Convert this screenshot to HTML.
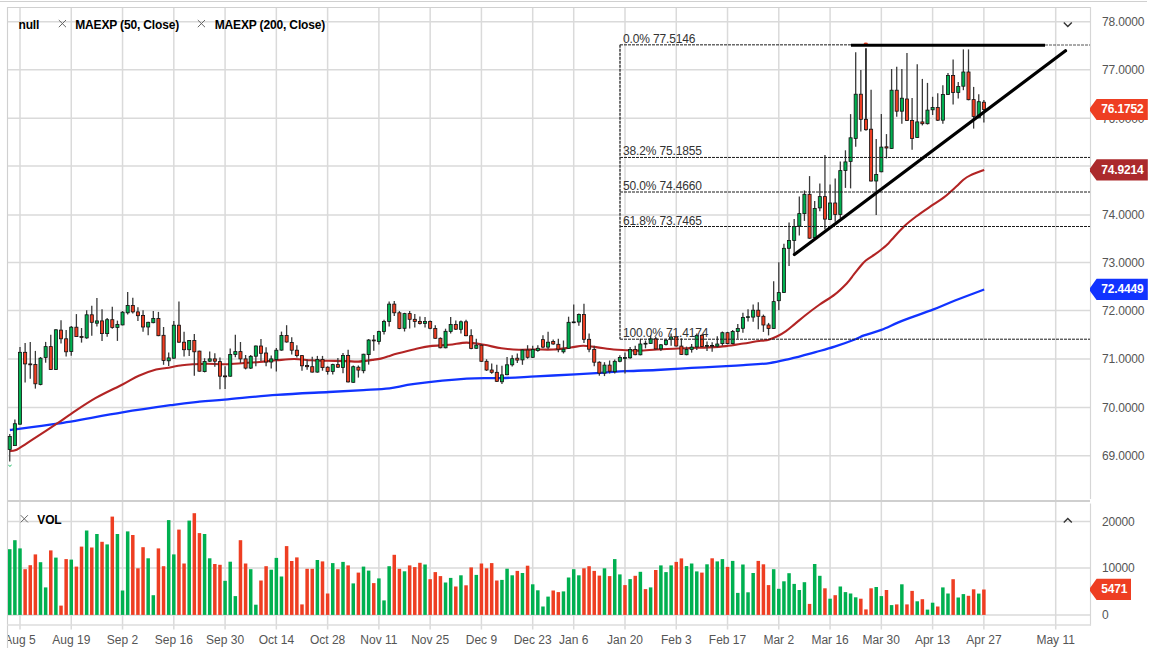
<!DOCTYPE html>
<html lang="en"><head><meta charset="utf-8"><title>Chart</title>
<style>html,body{margin:0;padding:0;background:#fff;overflow:hidden}svg{display:block}text{font-family:"Liberation Sans",Arial,sans-serif;font-size:12px;letter-spacing:-0.15px}.b{font-weight:bold;fill:#000}.ax{fill:#555}.dx{letter-spacing:0}.fib{fill:#333}.tag{font-weight:bold;fill:#fff}</style></head><body>
<svg width="1153" height="648" viewBox="0 0 1153 648">
<rect width="1153" height="648" fill="#fff"/>
<line x1="0" y1="1.5" x2="1147" y2="1.5" stroke="#d0d0d0" stroke-width="1"/>
<g stroke="#dadada" stroke-width="1.5" fill="none">
<line x1="8" y1="455.70" x2="1090" y2="455.70"/>
<line x1="8" y1="407.60" x2="1090" y2="407.60"/>
<line x1="8" y1="358.90" x2="1090" y2="358.90"/>
<line x1="8" y1="310.60" x2="1090" y2="310.60"/>
<line x1="8" y1="262.60" x2="1090" y2="262.60"/>
<line x1="8" y1="214.90" x2="1090" y2="214.90"/>
<line x1="8" y1="166.10" x2="1090" y2="166.10"/>
<line x1="8" y1="118.30" x2="1090" y2="118.30"/>
<line x1="8" y1="69.80" x2="1090" y2="69.80"/>
<line x1="8" y1="21.70" x2="1090" y2="21.70"/>
<line x1="8" y1="521.6" x2="1090" y2="521.6"/>
<line x1="8" y1="567.9" x2="1090" y2="567.9"/>
<line x1="8" y1="614.9" x2="1090" y2="614.9"/>
<line x1="20.00" y1="8" x2="20.00" y2="629.5"/>
<line x1="71.27" y1="8" x2="71.27" y2="629.5"/>
<line x1="122.54" y1="8" x2="122.54" y2="629.5"/>
<line x1="173.81" y1="8" x2="173.81" y2="629.5"/>
<line x1="225.08" y1="8" x2="225.08" y2="629.5"/>
<line x1="276.35" y1="8" x2="276.35" y2="629.5"/>
<line x1="327.62" y1="8" x2="327.62" y2="629.5"/>
<line x1="378.89" y1="8" x2="378.89" y2="629.5"/>
<line x1="430.16" y1="8" x2="430.16" y2="629.5"/>
<line x1="481.43" y1="8" x2="481.43" y2="629.5"/>
<line x1="532.70" y1="8" x2="532.70" y2="629.5"/>
<line x1="573.72" y1="8" x2="573.72" y2="629.5"/>
<line x1="624.99" y1="8" x2="624.99" y2="629.5"/>
<line x1="676.26" y1="8" x2="676.26" y2="629.5"/>
<line x1="727.53" y1="8" x2="727.53" y2="629.5"/>
<line x1="778.80" y1="8" x2="778.80" y2="629.5"/>
<line x1="830.07" y1="8" x2="830.07" y2="629.5"/>
<line x1="881.34" y1="8" x2="881.34" y2="629.5"/>
<line x1="932.61" y1="8" x2="932.61" y2="629.5"/>
<line x1="983.88" y1="8" x2="983.88" y2="629.5"/>
<line x1="1055.70" y1="8" x2="1055.70" y2="629.5"/>
</g>
<g stroke="#d0d0d0" stroke-width="1.15" fill="none">
<line x1="7.5" y1="7" x2="7.5" y2="648"/>
<line x1="7" y1="7.5" x2="1091" y2="7.5"/>
<line x1="1090.5" y1="7" x2="1090.5" y2="499" stroke="#d6d6d6"/>
<line x1="1090.5" y1="503.5" x2="1090.5" y2="625.5" stroke="#d6d6d6"/>
</g>
<line x1="7" y1="625" x2="1091" y2="625" stroke="#dcdcdc" stroke-width="1.5"/>
<line x1="7" y1="501" x2="1090" y2="501" stroke="#cfcfcf" stroke-width="1.8"/>
<g>
<rect x="8.00" y="549.2" width="3.5" height="65.7" fill="#00b050"/>
<rect x="13.13" y="540.2" width="3.5" height="74.7" fill="#00b050"/>
<rect x="18.25" y="548.4" width="3.5" height="66.5" fill="#00b050"/>
<rect x="23.38" y="569.2" width="3.5" height="45.7" fill="#ee3e22"/>
<rect x="28.51" y="565.2" width="3.5" height="49.7" fill="#ee3e22"/>
<rect x="33.63" y="554.4" width="3.5" height="60.5" fill="#ee3e22"/>
<rect x="38.76" y="562.2" width="3.5" height="52.7" fill="#00b050"/>
<rect x="43.89" y="587.4" width="3.5" height="27.5" fill="#00b050"/>
<rect x="49.02" y="550.4" width="3.5" height="64.5" fill="#ee3e22"/>
<rect x="54.14" y="557.6" width="3.5" height="57.3" fill="#00b050"/>
<rect x="59.27" y="605.6" width="3.5" height="9.3" fill="#ee3e22"/>
<rect x="64.40" y="559.1" width="3.5" height="55.8" fill="#ee3e22"/>
<rect x="69.52" y="559.6" width="3.5" height="55.3" fill="#00b050"/>
<rect x="74.65" y="566.6" width="3.5" height="48.3" fill="#ee3e22"/>
<rect x="79.78" y="546.6" width="3.5" height="68.3" fill="#ee3e22"/>
<rect x="84.91" y="530.5" width="3.5" height="84.4" fill="#00b050"/>
<rect x="90.03" y="547.5" width="3.5" height="67.4" fill="#ee3e22"/>
<rect x="95.16" y="534.0" width="3.5" height="80.9" fill="#00b050"/>
<rect x="100.29" y="541.8" width="3.5" height="73.1" fill="#ee3e22"/>
<rect x="105.41" y="544.4" width="3.5" height="70.5" fill="#00b050"/>
<rect x="110.54" y="516.6" width="3.5" height="98.3" fill="#ee3e22"/>
<rect x="115.67" y="534.0" width="3.5" height="80.9" fill="#00b050"/>
<rect x="120.79" y="590.5" width="3.5" height="24.4" fill="#00b050"/>
<rect x="125.92" y="531.4" width="3.5" height="83.5" fill="#00b050"/>
<rect x="131.05" y="535.0" width="3.5" height="79.9" fill="#ee3e22"/>
<rect x="136.17" y="568.3" width="3.5" height="46.6" fill="#ee3e22"/>
<rect x="141.30" y="547.2" width="3.5" height="67.7" fill="#ee3e22"/>
<rect x="146.43" y="558.3" width="3.5" height="56.6" fill="#00b050"/>
<rect x="151.56" y="595.2" width="3.5" height="19.7" fill="#00b050"/>
<rect x="156.68" y="548.4" width="3.5" height="66.5" fill="#ee3e22"/>
<rect x="161.81" y="566.2" width="3.5" height="48.7" fill="#ee3e22"/>
<rect x="166.94" y="520.1" width="3.5" height="94.8" fill="#00b050"/>
<rect x="172.06" y="554.4" width="3.5" height="60.5" fill="#00b050"/>
<rect x="177.19" y="529.6" width="3.5" height="85.3" fill="#ee3e22"/>
<rect x="182.32" y="563.5" width="3.5" height="51.4" fill="#ee3e22"/>
<rect x="187.44" y="520.6" width="3.5" height="94.3" fill="#00b050"/>
<rect x="192.57" y="513.2" width="3.5" height="101.7" fill="#ee3e22"/>
<rect x="197.70" y="533.1" width="3.5" height="81.8" fill="#ee3e22"/>
<rect x="202.83" y="534.0" width="3.5" height="80.9" fill="#00b050"/>
<rect x="207.95" y="558.3" width="3.5" height="56.6" fill="#00b050"/>
<rect x="213.08" y="564.0" width="3.5" height="50.9" fill="#ee3e22"/>
<rect x="218.21" y="564.8" width="3.5" height="50.1" fill="#ee3e22"/>
<rect x="223.33" y="580.8" width="3.5" height="34.1" fill="#00b050"/>
<rect x="228.46" y="561.7" width="3.5" height="53.2" fill="#00b050"/>
<rect x="233.59" y="596.1" width="3.5" height="18.8" fill="#00b050"/>
<rect x="238.72" y="540.2" width="3.5" height="74.7" fill="#ee3e22"/>
<rect x="243.84" y="563.5" width="3.5" height="51.4" fill="#ee3e22"/>
<rect x="248.97" y="569.2" width="3.5" height="45.7" fill="#00b050"/>
<rect x="254.10" y="604.7" width="3.5" height="10.2" fill="#00b050"/>
<rect x="259.22" y="580.5" width="3.5" height="34.4" fill="#ee3e22"/>
<rect x="264.35" y="566.2" width="3.5" height="48.7" fill="#ee3e22"/>
<rect x="269.48" y="569.7" width="3.5" height="45.2" fill="#00b050"/>
<rect x="274.60" y="557.9" width="3.5" height="57.0" fill="#00b050"/>
<rect x="279.73" y="576.5" width="3.5" height="38.4" fill="#00b050"/>
<rect x="284.86" y="546.1" width="3.5" height="68.8" fill="#ee3e22"/>
<rect x="289.99" y="561.0" width="3.5" height="53.9" fill="#ee3e22"/>
<rect x="295.11" y="557.4" width="3.5" height="57.5" fill="#ee3e22"/>
<rect x="300.24" y="604.4" width="3.5" height="10.5" fill="#ee3e22"/>
<rect x="305.37" y="568.8" width="3.5" height="46.1" fill="#ee3e22"/>
<rect x="310.49" y="568.8" width="3.5" height="46.1" fill="#ee3e22"/>
<rect x="315.62" y="560.0" width="3.5" height="54.9" fill="#00b050"/>
<rect x="320.75" y="561.4" width="3.5" height="53.5" fill="#ee3e22"/>
<rect x="325.87" y="593.5" width="3.5" height="21.4" fill="#ee3e22"/>
<rect x="331.00" y="563.1" width="3.5" height="51.8" fill="#00b050"/>
<rect x="336.13" y="569.2" width="3.5" height="45.7" fill="#ee3e22"/>
<rect x="341.25" y="561.9" width="3.5" height="53.0" fill="#00b050"/>
<rect x="346.38" y="565.4" width="3.5" height="49.5" fill="#ee3e22"/>
<rect x="351.51" y="583.4" width="3.5" height="31.5" fill="#00b050"/>
<rect x="356.64" y="572.6" width="3.5" height="42.3" fill="#ee3e22"/>
<rect x="361.76" y="566.6" width="3.5" height="48.3" fill="#00b050"/>
<rect x="366.89" y="570.6" width="3.5" height="44.3" fill="#00b050"/>
<rect x="372.02" y="583.1" width="3.5" height="31.8" fill="#ee3e22"/>
<rect x="377.14" y="578.4" width="3.5" height="36.5" fill="#00b050"/>
<rect x="382.27" y="600.4" width="3.5" height="14.5" fill="#00b050"/>
<rect x="387.40" y="566.2" width="3.5" height="48.7" fill="#00b050"/>
<rect x="392.52" y="554.8" width="3.5" height="60.1" fill="#ee3e22"/>
<rect x="397.65" y="568.8" width="3.5" height="46.1" fill="#ee3e22"/>
<rect x="402.78" y="571.3" width="3.5" height="43.6" fill="#00b050"/>
<rect x="407.91" y="565.4" width="3.5" height="49.5" fill="#ee3e22"/>
<rect x="413.03" y="567.1" width="3.5" height="47.8" fill="#ee3e22"/>
<rect x="418.16" y="562.8" width="3.5" height="52.1" fill="#ee3e22"/>
<rect x="423.29" y="564.5" width="3.5" height="50.4" fill="#00b050"/>
<rect x="428.41" y="579.2" width="3.5" height="35.7" fill="#ee3e22"/>
<rect x="433.54" y="572.1" width="3.5" height="42.8" fill="#ee3e22"/>
<rect x="438.67" y="576.1" width="3.5" height="38.8" fill="#ee3e22"/>
<rect x="443.79" y="582.5" width="3.5" height="32.4" fill="#00b050"/>
<rect x="448.92" y="577.9" width="3.5" height="37.0" fill="#00b050"/>
<rect x="454.05" y="586.5" width="3.5" height="28.4" fill="#ee3e22"/>
<rect x="459.18" y="575.3" width="3.5" height="39.6" fill="#00b050"/>
<rect x="464.30" y="585.3" width="3.5" height="29.6" fill="#ee3e22"/>
<rect x="469.43" y="567.4" width="3.5" height="47.5" fill="#ee3e22"/>
<rect x="474.56" y="574.9" width="3.5" height="40.0" fill="#00b050"/>
<rect x="479.68" y="563.5" width="3.5" height="51.4" fill="#ee3e22"/>
<rect x="484.81" y="568.3" width="3.5" height="46.6" fill="#ee3e22"/>
<rect x="489.94" y="563.1" width="3.5" height="51.8" fill="#ee3e22"/>
<rect x="495.06" y="580.5" width="3.5" height="34.4" fill="#ee3e22"/>
<rect x="500.19" y="579.9" width="3.5" height="35.0" fill="#00b050"/>
<rect x="505.32" y="568.7" width="3.5" height="46.2" fill="#00b050"/>
<rect x="510.45" y="575.3" width="3.5" height="39.6" fill="#00b050"/>
<rect x="515.57" y="570.9" width="3.5" height="44.0" fill="#ee3e22"/>
<rect x="520.70" y="573.0" width="3.5" height="41.9" fill="#00b050"/>
<rect x="525.83" y="565.7" width="3.5" height="49.2" fill="#ee3e22"/>
<rect x="530.95" y="584.3" width="3.5" height="30.6" fill="#00b050"/>
<rect x="536.08" y="590.3" width="3.5" height="24.6" fill="#00b050"/>
<rect x="541.21" y="606.5" width="3.5" height="8.4" fill="#00b050"/>
<rect x="546.33" y="596.6" width="3.5" height="18.3" fill="#00b050"/>
<rect x="551.46" y="590.5" width="3.5" height="24.4" fill="#ee3e22"/>
<rect x="556.59" y="592.1" width="3.5" height="22.8" fill="#ee3e22"/>
<rect x="561.72" y="591.4" width="3.5" height="23.5" fill="#00b050"/>
<rect x="566.84" y="577.5" width="3.5" height="37.4" fill="#00b050"/>
<rect x="571.97" y="569.2" width="3.5" height="45.7" fill="#00b050"/>
<rect x="577.10" y="575.3" width="3.5" height="39.6" fill="#00b050"/>
<rect x="582.22" y="568.3" width="3.5" height="46.6" fill="#ee3e22"/>
<rect x="587.35" y="566.2" width="3.5" height="48.7" fill="#ee3e22"/>
<rect x="592.48" y="570.9" width="3.5" height="44.0" fill="#ee3e22"/>
<rect x="597.61" y="575.6" width="3.5" height="39.3" fill="#ee3e22"/>
<rect x="602.73" y="568.3" width="3.5" height="46.6" fill="#00b050"/>
<rect x="607.86" y="576.1" width="3.5" height="38.8" fill="#ee3e22"/>
<rect x="612.99" y="559.1" width="3.5" height="55.8" fill="#00b050"/>
<rect x="618.11" y="574.4" width="3.5" height="40.5" fill="#00b050"/>
<rect x="623.24" y="585.1" width="3.5" height="29.8" fill="#ee3e22"/>
<rect x="628.37" y="579.1" width="3.5" height="35.8" fill="#00b050"/>
<rect x="633.49" y="575.8" width="3.5" height="39.1" fill="#ee3e22"/>
<rect x="638.62" y="571.8" width="3.5" height="43.1" fill="#00b050"/>
<rect x="643.75" y="589.1" width="3.5" height="25.8" fill="#ee3e22"/>
<rect x="648.88" y="587.4" width="3.5" height="27.5" fill="#00b050"/>
<rect x="654.00" y="570.0" width="3.5" height="44.9" fill="#ee3e22"/>
<rect x="659.13" y="565.4" width="3.5" height="49.5" fill="#00b050"/>
<rect x="664.26" y="572.1" width="3.5" height="42.8" fill="#00b050"/>
<rect x="669.38" y="565.4" width="3.5" height="49.5" fill="#00b050"/>
<rect x="674.51" y="561.9" width="3.5" height="53.0" fill="#ee3e22"/>
<rect x="679.64" y="558.4" width="3.5" height="56.5" fill="#ee3e22"/>
<rect x="684.76" y="566.1" width="3.5" height="48.8" fill="#00b050"/>
<rect x="689.89" y="563.5" width="3.5" height="51.4" fill="#00b050"/>
<rect x="695.02" y="571.4" width="3.5" height="43.5" fill="#00b050"/>
<rect x="700.14" y="572.6" width="3.5" height="42.3" fill="#ee3e22"/>
<rect x="705.27" y="564.3" width="3.5" height="50.6" fill="#00b050"/>
<rect x="710.40" y="558.3" width="3.5" height="56.6" fill="#ee3e22"/>
<rect x="715.53" y="561.4" width="3.5" height="53.5" fill="#00b050"/>
<rect x="720.65" y="559.1" width="3.5" height="55.8" fill="#00b050"/>
<rect x="725.78" y="566.9" width="3.5" height="48.0" fill="#ee3e22"/>
<rect x="730.91" y="560.9" width="3.5" height="54.0" fill="#00b050"/>
<rect x="736.03" y="592.9" width="3.5" height="22.0" fill="#00b050"/>
<rect x="741.16" y="564.5" width="3.5" height="50.4" fill="#00b050"/>
<rect x="746.29" y="592.3" width="3.5" height="22.6" fill="#00b050"/>
<rect x="751.41" y="573.0" width="3.5" height="41.9" fill="#00b050"/>
<rect x="756.54" y="560.9" width="3.5" height="54.0" fill="#ee3e22"/>
<rect x="761.67" y="564.3" width="3.5" height="50.6" fill="#ee3e22"/>
<rect x="766.80" y="585.1" width="3.5" height="29.8" fill="#ee3e22"/>
<rect x="771.92" y="569.2" width="3.5" height="45.7" fill="#00b050"/>
<rect x="777.05" y="588.8" width="3.5" height="26.1" fill="#00b050"/>
<rect x="782.18" y="581.3" width="3.5" height="33.6" fill="#00b050"/>
<rect x="787.30" y="573.2" width="3.5" height="41.7" fill="#00b050"/>
<rect x="792.43" y="583.9" width="3.5" height="31.0" fill="#00b050"/>
<rect x="797.56" y="590.0" width="3.5" height="24.9" fill="#00b050"/>
<rect x="802.68" y="582.2" width="3.5" height="32.7" fill="#00b050"/>
<rect x="807.81" y="603.9" width="3.5" height="11.0" fill="#ee3e22"/>
<rect x="812.94" y="564.0" width="3.5" height="50.9" fill="#00b050"/>
<rect x="818.07" y="575.8" width="3.5" height="39.1" fill="#00b050"/>
<rect x="823.19" y="588.3" width="3.5" height="26.6" fill="#ee3e22"/>
<rect x="828.32" y="598.7" width="3.5" height="16.2" fill="#00b050"/>
<rect x="833.45" y="595.2" width="3.5" height="19.7" fill="#ee3e22"/>
<rect x="838.57" y="586.5" width="3.5" height="28.4" fill="#00b050"/>
<rect x="843.70" y="592.1" width="3.5" height="22.8" fill="#00b050"/>
<rect x="848.83" y="593.5" width="3.5" height="21.4" fill="#00b050"/>
<rect x="853.95" y="597.3" width="3.5" height="17.6" fill="#00b050"/>
<rect x="859.08" y="598.7" width="3.5" height="16.2" fill="#ee3e22"/>
<rect x="864.21" y="609.4" width="3.5" height="5.5" fill="#ee3e22"/>
<rect x="869.34" y="588.3" width="3.5" height="26.6" fill="#ee3e22"/>
<rect x="874.46" y="587.0" width="3.5" height="27.9" fill="#00b050"/>
<rect x="879.59" y="596.1" width="3.5" height="18.8" fill="#00b050"/>
<rect x="884.72" y="590.0" width="3.5" height="24.9" fill="#ee3e22"/>
<rect x="889.84" y="605.1" width="3.5" height="9.8" fill="#00b050"/>
<rect x="894.97" y="604.4" width="3.5" height="10.5" fill="#ee3e22"/>
<rect x="900.10" y="584.3" width="3.5" height="30.6" fill="#00b050"/>
<rect x="905.22" y="604.4" width="3.5" height="10.5" fill="#ee3e22"/>
<rect x="910.35" y="590.9" width="3.5" height="24.0" fill="#ee3e22"/>
<rect x="915.48" y="601.3" width="3.5" height="13.6" fill="#00b050"/>
<rect x="920.61" y="599.2" width="3.5" height="15.7" fill="#ee3e22"/>
<rect x="925.73" y="609.6" width="3.5" height="5.3" fill="#00b050"/>
<rect x="930.86" y="602.7" width="3.5" height="12.2" fill="#00b050"/>
<rect x="935.99" y="606.5" width="3.5" height="8.4" fill="#ee3e22"/>
<rect x="941.11" y="587.4" width="3.5" height="27.5" fill="#00b050"/>
<rect x="946.24" y="593.5" width="3.5" height="21.4" fill="#00b050"/>
<rect x="951.37" y="579.2" width="3.5" height="35.7" fill="#ee3e22"/>
<rect x="956.50" y="597.5" width="3.5" height="17.4" fill="#00b050"/>
<rect x="961.62" y="594.1" width="3.5" height="20.8" fill="#00b050"/>
<rect x="966.75" y="595.8" width="3.5" height="19.1" fill="#ee3e22"/>
<rect x="971.88" y="589.3" width="3.5" height="25.6" fill="#ee3e22"/>
<rect x="977.00" y="593.6" width="3.5" height="21.3" fill="#00b050"/>
<rect x="982.13" y="589.5" width="3.5" height="25.4" fill="#ee3e22"/>
</g>
<path d="M9.9 430.0C17.8 428.9 38.4 426.6 57.2 423.7C76.0 420.8 103.1 415.5 122.5 412.4C141.9 409.2 160.7 406.6 173.5 404.8C186.3 403.0 191.0 402.6 199.5 401.7C208.0 400.8 211.8 400.7 224.7 399.6C237.6 398.5 259.3 396.2 276.7 394.9C294.1 393.6 314.3 392.8 328.8 392.0C343.3 391.2 353.4 390.7 363.5 390.1C373.6 389.5 381.0 389.3 389.5 388.3C398.0 387.3 401.8 385.5 414.7 383.9C427.6 382.3 452.2 379.7 466.7 378.7C481.1 377.7 489.8 378.5 501.4 378.1C513.0 377.7 523.8 377.0 536.1 376.4C548.4 375.8 563.6 374.9 575.0 374.3C586.4 373.7 596.3 373.1 604.7 372.6C613.1 372.1 616.8 371.6 625.5 371.2C634.2 370.8 645.7 370.6 656.7 370.0C667.7 369.4 679.8 368.5 691.4 367.9C703.0 367.3 717.4 366.7 726.1 366.2C734.8 365.7 736.3 365.6 743.5 365.1C750.7 364.6 761.8 364.2 769.5 363.1C777.2 362.1 782.3 360.6 790.0 358.8C797.7 357.0 808.1 354.1 815.5 352.1C822.9 350.1 828.0 348.9 834.6 346.7C841.2 344.5 850.5 341.1 855.4 339.2C860.3 337.3 859.8 336.9 864.1 335.4C868.4 333.8 874.8 332.4 881.4 329.9C888.0 327.3 895.3 323.5 904.0 320.1C912.7 316.7 925.0 312.7 933.5 309.4C942.0 306.1 946.5 303.8 955.0 300.5C963.5 297.2 979.3 291.3 984.2 289.5" fill="none" stroke="#1133ff" stroke-width="2.3" stroke-linejoin="round" stroke-linecap="butt"/>
<path d="M9.9 451.1C10.8 451.0 13.4 450.9 15.1 450.3C16.8 449.7 16.8 449.6 20.1 447.6C23.4 445.6 28.5 442.1 34.7 438.1C40.9 434.1 51.1 427.4 57.2 423.4C63.3 419.3 64.7 418.0 71.1 413.8C77.5 409.6 86.8 403.1 95.4 398.2C104.0 393.3 115.3 388.2 122.5 384.5C129.7 380.8 133.2 378.2 138.8 375.7C144.4 373.2 151.5 370.9 156.1 369.6C160.7 368.3 162.2 368.7 166.5 368.0C170.8 367.3 177.5 365.9 182.1 365.3C186.7 364.7 190.1 364.5 194.3 364.2C198.5 363.9 202.2 363.7 207.3 363.7C212.4 363.7 218.9 364.3 224.7 364.2C230.5 364.1 236.2 363.6 242.0 363.2C247.8 362.8 253.6 362.5 259.4 362.0C265.2 361.5 270.9 360.8 276.7 360.3C282.5 359.8 288.3 359.0 294.1 359.0C299.9 359.0 305.6 360.0 311.4 360.3C317.2 360.6 323.0 360.7 328.8 360.8C334.6 360.9 341.2 361.0 346.1 361.1C351.0 361.2 354.0 361.8 358.3 361.6C362.6 361.4 368.4 360.4 372.1 359.9C375.9 359.4 377.9 359.2 380.8 358.6C383.7 358.0 386.8 356.9 389.5 356.0C392.2 355.1 393.1 354.6 397.3 353.5C401.5 352.4 409.2 350.4 414.7 349.2C420.2 348.0 424.5 346.8 430.3 346.1C436.1 345.4 443.3 345.4 449.4 344.8C455.5 344.2 460.9 342.6 466.7 342.6C472.5 342.6 478.3 343.9 484.1 344.8C489.9 345.8 495.6 347.5 501.4 348.3C507.2 349.1 513.0 349.5 518.8 349.7C524.6 349.9 530.3 349.5 536.1 349.5C541.9 349.5 547.7 349.8 553.5 349.5C559.3 349.2 565.9 348.1 570.8 347.5C575.7 346.9 578.8 345.8 583.0 345.7C587.2 345.6 590.9 346.5 596.0 347.1C601.1 347.7 608.5 349.0 613.4 349.5C618.3 350.0 621.2 350.0 625.5 350.2C629.8 350.4 634.2 350.7 639.4 350.6C644.6 350.5 650.9 349.8 656.7 349.5C662.5 349.2 668.3 348.9 674.1 348.7C679.9 348.4 685.6 348.2 691.4 348.0C697.2 347.8 703.0 347.7 708.8 347.4C714.6 347.1 720.3 346.8 726.1 346.1C731.9 345.5 737.7 344.4 743.5 343.5C749.3 342.6 756.6 341.4 760.8 340.8C765.0 340.2 766.0 340.4 768.7 339.7C771.5 338.9 774.4 337.7 777.3 336.3C780.2 334.9 783.1 333.1 786.0 331.1C788.9 329.1 791.5 326.7 794.7 324.1C797.9 321.5 801.1 318.7 805.1 315.5C809.1 312.3 814.1 308.5 819.0 305.0C823.9 301.5 830.0 298.2 834.6 294.6C839.2 291.0 843.5 286.7 846.7 283.4C849.9 280.1 851.4 277.6 853.7 274.7C856.0 271.8 858.6 268.4 860.6 266.0C862.6 263.6 863.5 262.4 865.8 260.5C868.1 258.6 871.9 256.5 874.5 254.7C877.1 252.9 879.1 251.4 881.4 249.5C883.7 247.6 886.7 245.2 888.4 243.5C890.1 241.8 889.2 242.3 891.8 239.5C894.4 236.7 900.0 230.2 904.0 226.4C908.0 222.6 911.2 220.2 916.1 216.5C921.0 212.8 928.9 207.6 933.5 204.4C938.1 201.2 941.0 199.6 943.9 197.4C946.8 195.2 948.4 193.6 950.8 191.5C953.1 189.4 955.9 187.0 958.0 185.0C960.1 183.0 961.4 181.3 963.4 179.7C965.4 178.1 966.8 177.0 970.3 175.4C973.8 173.8 981.9 170.8 984.2 169.9" fill="none" stroke="#b22424" stroke-width="2.1" stroke-linejoin="round" stroke-linecap="butt"/>
<g stroke="#111" stroke-width="0.8">
<line x1="9.75" y1="434.1" x2="9.75" y2="461.5" stroke="#3a3a3a" stroke-width="1.3"/>
<rect x="8.20" y="436.4" width="3.1" height="13.0" fill="#00b050"/>
<line x1="14.88" y1="419.5" x2="14.88" y2="445.7" stroke="#3a3a3a" stroke-width="1.3"/>
<rect x="13.33" y="423.7" width="3.1" height="21.9" fill="#00b050"/>
<line x1="20.00" y1="346.9" x2="20.00" y2="424.4" stroke="#3a3a3a" stroke-width="1.3"/>
<rect x="18.45" y="352.3" width="3.1" height="71.9" fill="#00b050"/>
<line x1="25.13" y1="343.1" x2="25.13" y2="382.5" stroke="#3a3a3a" stroke-width="1.3"/>
<rect x="23.58" y="352.3" width="3.1" height="11.6" fill="#ee3e22"/>
<line x1="30.26" y1="341.9" x2="30.26" y2="378.7" stroke="#3a3a3a" stroke-width="1.3"/>
<rect x="28.71" y="363.9" width="3.1" height="0.9" fill="#ee3e22"/>
<line x1="35.38" y1="350.9" x2="35.38" y2="388.6" stroke="#3a3a3a" stroke-width="1.3"/>
<rect x="33.84" y="364.4" width="3.1" height="19.4" fill="#ee3e22"/>
<line x1="40.51" y1="357.0" x2="40.51" y2="385.3" stroke="#3a3a3a" stroke-width="1.3"/>
<rect x="38.96" y="358.2" width="3.1" height="26.2" fill="#00b050"/>
<line x1="45.64" y1="341.9" x2="45.64" y2="362.7" stroke="#3a3a3a" stroke-width="1.3"/>
<rect x="44.09" y="346.6" width="3.1" height="10.9" fill="#00b050"/>
<line x1="50.77" y1="334.8" x2="50.77" y2="370.0" stroke="#3a3a3a" stroke-width="1.3"/>
<rect x="49.22" y="346.6" width="3.1" height="22.9" fill="#ee3e22"/>
<line x1="55.89" y1="329.2" x2="55.89" y2="370.0" stroke="#3a3a3a" stroke-width="1.3"/>
<rect x="54.34" y="329.8" width="3.1" height="39.7" fill="#00b050"/>
<line x1="61.02" y1="320.2" x2="61.02" y2="343.6" stroke="#3a3a3a" stroke-width="1.3"/>
<rect x="59.47" y="330.1" width="3.1" height="8.7" fill="#ee3e22"/>
<line x1="66.15" y1="330.1" x2="66.15" y2="356.5" stroke="#3a3a3a" stroke-width="1.3"/>
<rect x="64.60" y="338.8" width="3.1" height="13.0" fill="#ee3e22"/>
<line x1="71.27" y1="326.1" x2="71.27" y2="355.8" stroke="#3a3a3a" stroke-width="1.3"/>
<rect x="69.72" y="327.2" width="3.1" height="24.3" fill="#00b050"/>
<line x1="76.40" y1="314.1" x2="76.40" y2="337.0" stroke="#3a3a3a" stroke-width="1.3"/>
<rect x="74.85" y="327.2" width="3.1" height="9.4" fill="#ee3e22"/>
<line x1="81.53" y1="328.0" x2="81.53" y2="342.6" stroke="#3a3a3a" stroke-width="1.3"/>
<rect x="79.98" y="336.5" width="3.1" height="1.0" fill="#ee3e22"/>
<line x1="86.66" y1="310.2" x2="86.66" y2="338.8" stroke="#3a3a3a" stroke-width="1.3"/>
<rect x="85.11" y="314.8" width="3.1" height="23.1" fill="#00b050"/>
<line x1="91.78" y1="305.8" x2="91.78" y2="335.7" stroke="#3a3a3a" stroke-width="1.3"/>
<rect x="90.23" y="314.8" width="3.1" height="7.5" fill="#ee3e22"/>
<line x1="96.91" y1="298.0" x2="96.91" y2="326.6" stroke="#3a3a3a" stroke-width="1.3"/>
<rect x="95.36" y="320.9" width="3.1" height="2.3" fill="#00b050"/>
<line x1="102.04" y1="309.3" x2="102.04" y2="340.9" stroke="#3a3a3a" stroke-width="1.3"/>
<rect x="100.49" y="320.9" width="3.1" height="12.7" fill="#ee3e22"/>
<line x1="107.16" y1="318.0" x2="107.16" y2="336.7" stroke="#3a3a3a" stroke-width="1.3"/>
<rect x="105.61" y="319.7" width="3.1" height="13.9" fill="#00b050"/>
<line x1="112.29" y1="306.7" x2="112.29" y2="328.7" stroke="#3a3a3a" stroke-width="1.3"/>
<rect x="110.74" y="319.7" width="3.1" height="7.8" fill="#ee3e22"/>
<line x1="117.42" y1="320.6" x2="117.42" y2="340.9" stroke="#3a3a3a" stroke-width="1.3"/>
<rect x="115.87" y="324.5" width="3.1" height="2.9" fill="#00b050"/>
<line x1="122.54" y1="311.0" x2="122.54" y2="325.4" stroke="#3a3a3a" stroke-width="1.3"/>
<rect x="120.99" y="312.2" width="3.1" height="12.7" fill="#00b050"/>
<line x1="127.67" y1="291.9" x2="127.67" y2="314.5" stroke="#3a3a3a" stroke-width="1.3"/>
<rect x="126.12" y="305.5" width="3.1" height="7.3" fill="#00b050"/>
<line x1="132.80" y1="297.7" x2="132.80" y2="313.6" stroke="#3a3a3a" stroke-width="1.3"/>
<rect x="131.25" y="305.5" width="3.1" height="6.4" fill="#ee3e22"/>
<line x1="137.92" y1="307.2" x2="137.92" y2="321.1" stroke="#3a3a3a" stroke-width="1.3"/>
<rect x="136.37" y="311.9" width="3.1" height="3.8" fill="#ee3e22"/>
<line x1="143.05" y1="310.2" x2="143.05" y2="331.8" stroke="#3a3a3a" stroke-width="1.3"/>
<rect x="141.50" y="315.4" width="3.1" height="11.6" fill="#ee3e22"/>
<line x1="148.18" y1="321.8" x2="148.18" y2="335.3" stroke="#3a3a3a" stroke-width="1.3"/>
<rect x="146.63" y="322.3" width="3.1" height="4.7" fill="#00b050"/>
<line x1="153.31" y1="311.0" x2="153.31" y2="323.2" stroke="#3a3a3a" stroke-width="1.3"/>
<rect x="151.76" y="318.5" width="3.1" height="4.2" fill="#00b050"/>
<line x1="158.43" y1="311.9" x2="158.43" y2="336.2" stroke="#3a3a3a" stroke-width="1.3"/>
<rect x="156.88" y="318.5" width="3.1" height="17.2" fill="#ee3e22"/>
<line x1="163.56" y1="327.0" x2="163.56" y2="364.8" stroke="#3a3a3a" stroke-width="1.3"/>
<rect x="162.01" y="335.3" width="3.1" height="25.2" fill="#ee3e22"/>
<line x1="168.69" y1="352.6" x2="168.69" y2="366.0" stroke="#3a3a3a" stroke-width="1.3"/>
<rect x="167.14" y="357.9" width="3.1" height="2.9" fill="#00b050"/>
<line x1="173.81" y1="321.1" x2="173.81" y2="358.7" stroke="#3a3a3a" stroke-width="1.3"/>
<rect x="172.26" y="325.2" width="3.1" height="33.0" fill="#00b050"/>
<line x1="178.94" y1="301.5" x2="178.94" y2="342.8" stroke="#3a3a3a" stroke-width="1.3"/>
<rect x="177.39" y="325.2" width="3.1" height="17.0" fill="#ee3e22"/>
<line x1="184.07" y1="331.8" x2="184.07" y2="356.5" stroke="#3a3a3a" stroke-width="1.3"/>
<rect x="182.52" y="342.2" width="3.1" height="7.5" fill="#ee3e22"/>
<line x1="189.19" y1="340.2" x2="189.19" y2="356.1" stroke="#3a3a3a" stroke-width="1.3"/>
<rect x="187.64" y="340.5" width="3.1" height="9.2" fill="#00b050"/>
<line x1="194.32" y1="334.1" x2="194.32" y2="375.7" stroke="#3a3a3a" stroke-width="1.3"/>
<rect x="192.77" y="340.5" width="3.1" height="11.3" fill="#ee3e22"/>
<line x1="199.45" y1="350.7" x2="199.45" y2="371.5" stroke="#3a3a3a" stroke-width="1.3"/>
<rect x="197.90" y="351.1" width="3.1" height="20.1" fill="#ee3e22"/>
<line x1="204.58" y1="358.2" x2="204.58" y2="372.4" stroke="#3a3a3a" stroke-width="1.3"/>
<rect x="203.03" y="361.5" width="3.1" height="10.1" fill="#00b050"/>
<line x1="209.70" y1="351.6" x2="209.70" y2="362.0" stroke="#3a3a3a" stroke-width="1.3"/>
<rect x="208.15" y="358.9" width="3.1" height="2.3" fill="#00b050"/>
<line x1="214.83" y1="353.3" x2="214.83" y2="366.7" stroke="#3a3a3a" stroke-width="1.3"/>
<rect x="213.28" y="358.9" width="3.1" height="2.3" fill="#ee3e22"/>
<line x1="219.96" y1="357.6" x2="219.96" y2="389.2" stroke="#3a3a3a" stroke-width="1.3"/>
<rect x="218.41" y="361.6" width="3.1" height="14.6" fill="#ee3e22"/>
<line x1="225.08" y1="366.3" x2="225.08" y2="388.9" stroke="#3a3a3a" stroke-width="1.3"/>
<rect x="223.53" y="375.9" width="3.1" height="0.9" fill="#ee3e22"/>
<line x1="230.21" y1="348.6" x2="230.21" y2="376.7" stroke="#3a3a3a" stroke-width="1.3"/>
<rect x="228.66" y="354.5" width="3.1" height="21.7" fill="#00b050"/>
<line x1="235.34" y1="334.8" x2="235.34" y2="357.3" stroke="#3a3a3a" stroke-width="1.3"/>
<rect x="233.79" y="351.6" width="3.1" height="2.9" fill="#00b050"/>
<line x1="240.47" y1="342.0" x2="240.47" y2="362.9" stroke="#3a3a3a" stroke-width="1.3"/>
<rect x="238.91" y="351.6" width="3.1" height="7.3" fill="#ee3e22"/>
<line x1="245.59" y1="355.0" x2="245.59" y2="369.4" stroke="#3a3a3a" stroke-width="1.3"/>
<rect x="244.04" y="358.9" width="3.1" height="9.2" fill="#ee3e22"/>
<line x1="250.72" y1="355.0" x2="250.72" y2="368.9" stroke="#3a3a3a" stroke-width="1.3"/>
<rect x="249.17" y="356.3" width="3.1" height="11.8" fill="#00b050"/>
<line x1="255.85" y1="345.5" x2="255.85" y2="366.3" stroke="#3a3a3a" stroke-width="1.3"/>
<rect x="254.30" y="346.0" width="3.1" height="10.2" fill="#00b050"/>
<line x1="260.97" y1="339.1" x2="260.97" y2="361.1" stroke="#3a3a3a" stroke-width="1.3"/>
<rect x="259.42" y="346.0" width="3.1" height="7.3" fill="#ee3e22"/>
<line x1="266.10" y1="347.2" x2="266.10" y2="366.3" stroke="#3a3a3a" stroke-width="1.3"/>
<rect x="264.55" y="353.0" width="3.1" height="9.0" fill="#ee3e22"/>
<line x1="271.23" y1="355.6" x2="271.23" y2="368.4" stroke="#3a3a3a" stroke-width="1.3"/>
<rect x="269.68" y="358.9" width="3.1" height="3.1" fill="#00b050"/>
<line x1="276.35" y1="348.1" x2="276.35" y2="371.5" stroke="#3a3a3a" stroke-width="1.3"/>
<rect x="274.80" y="350.2" width="3.1" height="9.2" fill="#00b050"/>
<line x1="281.48" y1="331.6" x2="281.48" y2="350.7" stroke="#3a3a3a" stroke-width="1.3"/>
<rect x="279.93" y="335.4" width="3.1" height="14.7" fill="#00b050"/>
<line x1="286.61" y1="325.2" x2="286.61" y2="342.6" stroke="#3a3a3a" stroke-width="1.3"/>
<rect x="285.06" y="335.4" width="3.1" height="6.6" fill="#ee3e22"/>
<line x1="291.74" y1="337.2" x2="291.74" y2="354.5" stroke="#3a3a3a" stroke-width="1.3"/>
<rect x="290.19" y="342.4" width="3.1" height="7.8" fill="#ee3e22"/>
<line x1="296.86" y1="345.2" x2="296.86" y2="357.6" stroke="#3a3a3a" stroke-width="1.3"/>
<rect x="295.31" y="350.2" width="3.1" height="5.4" fill="#ee3e22"/>
<line x1="301.99" y1="355.0" x2="301.99" y2="370.7" stroke="#3a3a3a" stroke-width="1.3"/>
<rect x="300.44" y="355.6" width="3.1" height="10.2" fill="#ee3e22"/>
<line x1="307.12" y1="359.4" x2="307.12" y2="369.8" stroke="#3a3a3a" stroke-width="1.3"/>
<rect x="305.57" y="365.5" width="3.1" height="1.2" fill="#ee3e22"/>
<line x1="312.24" y1="356.8" x2="312.24" y2="372.6" stroke="#3a3a3a" stroke-width="1.3"/>
<rect x="310.69" y="366.7" width="3.1" height="5.4" fill="#ee3e22"/>
<line x1="317.37" y1="355.9" x2="317.37" y2="372.6" stroke="#3a3a3a" stroke-width="1.3"/>
<rect x="315.82" y="359.4" width="3.1" height="12.7" fill="#00b050"/>
<line x1="322.50" y1="355.9" x2="322.50" y2="370.7" stroke="#3a3a3a" stroke-width="1.3"/>
<rect x="320.95" y="359.4" width="3.1" height="8.2" fill="#ee3e22"/>
<line x1="327.62" y1="366.3" x2="327.62" y2="374.6" stroke="#3a3a3a" stroke-width="1.3"/>
<rect x="326.07" y="367.2" width="3.1" height="4.3" fill="#ee3e22"/>
<line x1="332.75" y1="363.7" x2="332.75" y2="374.5" stroke="#3a3a3a" stroke-width="1.3"/>
<rect x="331.20" y="364.6" width="3.1" height="6.9" fill="#00b050"/>
<line x1="337.88" y1="358.0" x2="337.88" y2="368.1" stroke="#3a3a3a" stroke-width="1.3"/>
<rect x="336.33" y="364.6" width="3.1" height="2.6" fill="#ee3e22"/>
<line x1="343.00" y1="353.0" x2="343.00" y2="373.3" stroke="#3a3a3a" stroke-width="1.3"/>
<rect x="341.45" y="355.4" width="3.1" height="12.1" fill="#00b050"/>
<line x1="348.13" y1="349.8" x2="348.13" y2="382.5" stroke="#3a3a3a" stroke-width="1.3"/>
<rect x="346.58" y="355.4" width="3.1" height="26.5" fill="#ee3e22"/>
<line x1="353.26" y1="365.5" x2="353.26" y2="382.8" stroke="#3a3a3a" stroke-width="1.3"/>
<rect x="351.71" y="366.7" width="3.1" height="15.6" fill="#00b050"/>
<line x1="358.39" y1="365.5" x2="358.39" y2="377.6" stroke="#3a3a3a" stroke-width="1.3"/>
<rect x="356.84" y="367.2" width="3.1" height="2.9" fill="#ee3e22"/>
<line x1="363.51" y1="353.8" x2="363.51" y2="373.3" stroke="#3a3a3a" stroke-width="1.3"/>
<rect x="361.96" y="354.2" width="3.1" height="16.5" fill="#00b050"/>
<line x1="368.64" y1="339.1" x2="368.64" y2="364.6" stroke="#3a3a3a" stroke-width="1.3"/>
<rect x="367.09" y="340.0" width="3.1" height="14.6" fill="#00b050"/>
<line x1="373.77" y1="335.1" x2="373.77" y2="350.7" stroke="#3a3a3a" stroke-width="1.3"/>
<rect x="372.22" y="340.0" width="3.1" height="0.9" fill="#ee3e22"/>
<line x1="378.89" y1="330.8" x2="378.89" y2="344.6" stroke="#3a3a3a" stroke-width="1.3"/>
<rect x="377.34" y="331.6" width="3.1" height="9.9" fill="#00b050"/>
<line x1="384.02" y1="319.7" x2="384.02" y2="334.4" stroke="#3a3a3a" stroke-width="1.3"/>
<rect x="382.47" y="321.4" width="3.1" height="10.1" fill="#00b050"/>
<line x1="389.15" y1="301.5" x2="389.15" y2="326.6" stroke="#3a3a3a" stroke-width="1.3"/>
<rect x="387.60" y="304.1" width="3.1" height="17.3" fill="#00b050"/>
<line x1="394.27" y1="301.0" x2="394.27" y2="315.9" stroke="#3a3a3a" stroke-width="1.3"/>
<rect x="392.72" y="304.1" width="3.1" height="8.7" fill="#ee3e22"/>
<line x1="399.40" y1="311.0" x2="399.40" y2="329.2" stroke="#3a3a3a" stroke-width="1.3"/>
<rect x="397.85" y="312.8" width="3.1" height="15.6" fill="#ee3e22"/>
<line x1="404.53" y1="312.8" x2="404.53" y2="331.5" stroke="#3a3a3a" stroke-width="1.3"/>
<rect x="402.98" y="313.6" width="3.1" height="14.7" fill="#00b050"/>
<line x1="409.66" y1="311.0" x2="409.66" y2="328.4" stroke="#3a3a3a" stroke-width="1.3"/>
<rect x="408.11" y="313.6" width="3.1" height="5.7" fill="#ee3e22"/>
<line x1="414.78" y1="314.1" x2="414.78" y2="327.5" stroke="#3a3a3a" stroke-width="1.3"/>
<rect x="413.23" y="319.3" width="3.1" height="2.1" fill="#ee3e22"/>
<line x1="419.91" y1="316.6" x2="419.91" y2="324.5" stroke="#3a3a3a" stroke-width="1.3"/>
<rect x="418.36" y="321.4" width="3.1" height="2.1" fill="#ee3e22"/>
<line x1="425.04" y1="317.1" x2="425.04" y2="327.5" stroke="#3a3a3a" stroke-width="1.3"/>
<rect x="423.49" y="321.4" width="3.1" height="2.1" fill="#00b050"/>
<line x1="430.16" y1="320.6" x2="430.16" y2="329.2" stroke="#3a3a3a" stroke-width="1.3"/>
<rect x="428.61" y="321.4" width="3.1" height="6.9" fill="#ee3e22"/>
<line x1="435.29" y1="325.2" x2="435.29" y2="338.8" stroke="#3a3a3a" stroke-width="1.3"/>
<rect x="433.74" y="328.4" width="3.1" height="9.9" fill="#ee3e22"/>
<line x1="440.42" y1="337.4" x2="440.42" y2="348.3" stroke="#3a3a3a" stroke-width="1.3"/>
<rect x="438.87" y="338.3" width="3.1" height="9.5" fill="#ee3e22"/>
<line x1="445.54" y1="328.7" x2="445.54" y2="348.3" stroke="#3a3a3a" stroke-width="1.3"/>
<rect x="443.99" y="331.3" width="3.1" height="16.5" fill="#00b050"/>
<line x1="450.67" y1="317.1" x2="450.67" y2="333.6" stroke="#3a3a3a" stroke-width="1.3"/>
<rect x="449.12" y="324.5" width="3.1" height="6.9" fill="#00b050"/>
<line x1="455.80" y1="320.6" x2="455.80" y2="330.1" stroke="#3a3a3a" stroke-width="1.3"/>
<rect x="454.25" y="324.5" width="3.1" height="4.7" fill="#ee3e22"/>
<line x1="460.93" y1="320.6" x2="460.93" y2="333.6" stroke="#3a3a3a" stroke-width="1.3"/>
<rect x="459.38" y="321.8" width="3.1" height="7.5" fill="#00b050"/>
<line x1="466.05" y1="319.7" x2="466.05" y2="336.2" stroke="#3a3a3a" stroke-width="1.3"/>
<rect x="464.50" y="321.8" width="3.1" height="13.9" fill="#ee3e22"/>
<line x1="471.18" y1="329.2" x2="471.18" y2="349.2" stroke="#3a3a3a" stroke-width="1.3"/>
<rect x="469.63" y="335.7" width="3.1" height="12.7" fill="#ee3e22"/>
<line x1="476.31" y1="338.8" x2="476.31" y2="348.8" stroke="#3a3a3a" stroke-width="1.3"/>
<rect x="474.76" y="345.2" width="3.1" height="3.1" fill="#00b050"/>
<line x1="481.43" y1="344.0" x2="481.43" y2="361.8" stroke="#3a3a3a" stroke-width="1.3"/>
<rect x="479.88" y="345.2" width="3.1" height="16.1" fill="#ee3e22"/>
<line x1="486.56" y1="359.2" x2="486.56" y2="370.9" stroke="#3a3a3a" stroke-width="1.3"/>
<rect x="485.01" y="361.3" width="3.1" height="8.7" fill="#ee3e22"/>
<line x1="491.69" y1="363.4" x2="491.69" y2="373.8" stroke="#3a3a3a" stroke-width="1.3"/>
<rect x="490.14" y="370.0" width="3.1" height="2.3" fill="#ee3e22"/>
<line x1="496.81" y1="364.8" x2="496.81" y2="382.1" stroke="#3a3a3a" stroke-width="1.3"/>
<rect x="495.26" y="372.3" width="3.1" height="9.0" fill="#ee3e22"/>
<line x1="501.94" y1="365.7" x2="501.94" y2="383.9" stroke="#3a3a3a" stroke-width="1.3"/>
<rect x="500.39" y="374.9" width="3.1" height="6.9" fill="#00b050"/>
<line x1="507.07" y1="357.0" x2="507.07" y2="375.2" stroke="#3a3a3a" stroke-width="1.3"/>
<rect x="505.52" y="364.8" width="3.1" height="9.9" fill="#00b050"/>
<line x1="512.20" y1="355.3" x2="512.20" y2="366.5" stroke="#3a3a3a" stroke-width="1.3"/>
<rect x="510.65" y="358.7" width="3.1" height="6.1" fill="#00b050"/>
<line x1="517.32" y1="353.5" x2="517.32" y2="363.1" stroke="#3a3a3a" stroke-width="1.3"/>
<rect x="515.77" y="358.2" width="3.1" height="1.9" fill="#ee3e22"/>
<line x1="522.45" y1="349.2" x2="522.45" y2="364.8" stroke="#3a3a3a" stroke-width="1.3"/>
<rect x="520.90" y="350.0" width="3.1" height="9.9" fill="#00b050"/>
<line x1="527.58" y1="345.2" x2="527.58" y2="358.7" stroke="#3a3a3a" stroke-width="1.3"/>
<rect x="526.03" y="350.0" width="3.1" height="7.3" fill="#ee3e22"/>
<line x1="532.70" y1="345.7" x2="532.70" y2="357.9" stroke="#3a3a3a" stroke-width="1.3"/>
<rect x="531.15" y="349.5" width="3.1" height="7.8" fill="#00b050"/>
<line x1="537.83" y1="345.2" x2="537.83" y2="351.8" stroke="#3a3a3a" stroke-width="1.3"/>
<rect x="536.28" y="348.3" width="3.1" height="2.1" fill="#00b050"/>
<line x1="542.96" y1="335.3" x2="542.96" y2="348.3" stroke="#3a3a3a" stroke-width="1.3"/>
<rect x="541.41" y="339.6" width="3.1" height="7.5" fill="#ee3e22"/>
<line x1="548.08" y1="331.8" x2="548.08" y2="349.2" stroke="#3a3a3a" stroke-width="1.3"/>
<rect x="546.53" y="342.2" width="3.1" height="4.9" fill="#00b050"/>
<line x1="553.21" y1="339.6" x2="553.21" y2="344.8" stroke="#3a3a3a" stroke-width="1.3"/>
<rect x="551.66" y="341.4" width="3.1" height="2.6" fill="#ee3e22"/>
<line x1="558.34" y1="338.8" x2="558.34" y2="352.3" stroke="#3a3a3a" stroke-width="1.3"/>
<rect x="556.79" y="344.3" width="3.1" height="4.9" fill="#ee3e22"/>
<line x1="563.47" y1="340.5" x2="563.47" y2="353.5" stroke="#3a3a3a" stroke-width="1.3"/>
<rect x="561.92" y="349.2" width="3.1" height="2.6" fill="#00b050"/>
<line x1="568.59" y1="316.7" x2="568.59" y2="348.8" stroke="#3a3a3a" stroke-width="1.3"/>
<rect x="567.04" y="322.3" width="3.1" height="26.0" fill="#00b050"/>
<line x1="573.72" y1="304.4" x2="573.72" y2="323.2" stroke="#3a3a3a" stroke-width="1.3"/>
<rect x="572.17" y="321.9" width="3.1" height="0.8" fill="#00b050"/>
<line x1="578.85" y1="313.6" x2="578.85" y2="325.8" stroke="#3a3a3a" stroke-width="1.3"/>
<rect x="577.30" y="314.5" width="3.1" height="7.5" fill="#00b050"/>
<line x1="583.97" y1="303.7" x2="583.97" y2="343.1" stroke="#3a3a3a" stroke-width="1.3"/>
<rect x="582.42" y="314.5" width="3.1" height="24.8" fill="#ee3e22"/>
<line x1="589.10" y1="333.6" x2="589.10" y2="352.3" stroke="#3a3a3a" stroke-width="1.3"/>
<rect x="587.55" y="339.3" width="3.1" height="9.9" fill="#ee3e22"/>
<line x1="594.23" y1="345.7" x2="594.23" y2="366.2" stroke="#3a3a3a" stroke-width="1.3"/>
<rect x="592.68" y="349.5" width="3.1" height="12.7" fill="#ee3e22"/>
<line x1="599.36" y1="361.3" x2="599.36" y2="375.7" stroke="#3a3a3a" stroke-width="1.3"/>
<rect x="597.81" y="362.2" width="3.1" height="10.9" fill="#ee3e22"/>
<line x1="604.48" y1="362.2" x2="604.48" y2="376.1" stroke="#3a3a3a" stroke-width="1.3"/>
<rect x="602.93" y="365.1" width="3.1" height="8.0" fill="#00b050"/>
<line x1="609.61" y1="360.5" x2="609.61" y2="373.5" stroke="#3a3a3a" stroke-width="1.3"/>
<rect x="608.06" y="365.1" width="3.1" height="6.1" fill="#ee3e22"/>
<line x1="614.74" y1="359.6" x2="614.74" y2="373.5" stroke="#3a3a3a" stroke-width="1.3"/>
<rect x="613.19" y="361.3" width="3.1" height="10.4" fill="#00b050"/>
<line x1="619.86" y1="355.3" x2="619.86" y2="362.2" stroke="#3a3a3a" stroke-width="1.3"/>
<rect x="618.31" y="357.5" width="3.1" height="3.8" fill="#00b050"/>
<line x1="624.99" y1="352.6" x2="624.99" y2="373.5" stroke="#3a3a3a" stroke-width="1.3"/>
<rect x="623.44" y="357.5" width="3.1" height="0.9" fill="#00b050"/>
<line x1="630.12" y1="347.1" x2="630.12" y2="358.7" stroke="#3a3a3a" stroke-width="1.3"/>
<rect x="628.57" y="349.5" width="3.1" height="8.3" fill="#00b050"/>
<line x1="635.24" y1="345.7" x2="635.24" y2="355.3" stroke="#3a3a3a" stroke-width="1.3"/>
<rect x="633.69" y="349.5" width="3.1" height="5.2" fill="#ee3e22"/>
<line x1="640.37" y1="338.8" x2="640.37" y2="355.3" stroke="#3a3a3a" stroke-width="1.3"/>
<rect x="638.82" y="344.0" width="3.1" height="10.8" fill="#00b050"/>
<line x1="645.50" y1="340.5" x2="645.50" y2="348.3" stroke="#3a3a3a" stroke-width="1.3"/>
<rect x="643.95" y="343.3" width="3.1" height="0.8" fill="#00b050"/>
<line x1="650.62" y1="335.3" x2="650.62" y2="344.0" stroke="#3a3a3a" stroke-width="1.3"/>
<rect x="649.08" y="338.8" width="3.1" height="4.7" fill="#00b050"/>
<line x1="655.75" y1="337.0" x2="655.75" y2="349.5" stroke="#3a3a3a" stroke-width="1.3"/>
<rect x="654.20" y="338.8" width="3.1" height="10.1" fill="#ee3e22"/>
<line x1="660.88" y1="344.0" x2="660.88" y2="350.9" stroke="#3a3a3a" stroke-width="1.3"/>
<rect x="659.33" y="344.8" width="3.1" height="4.0" fill="#00b050"/>
<line x1="666.01" y1="338.8" x2="666.01" y2="345.4" stroke="#3a3a3a" stroke-width="1.3"/>
<rect x="664.46" y="340.2" width="3.1" height="4.3" fill="#00b050"/>
<line x1="671.13" y1="333.6" x2="671.13" y2="345.7" stroke="#3a3a3a" stroke-width="1.3"/>
<rect x="669.58" y="337.0" width="3.1" height="2.1" fill="#00b050"/>
<line x1="676.26" y1="336.7" x2="676.26" y2="346.6" stroke="#3a3a3a" stroke-width="1.3"/>
<rect x="674.71" y="337.0" width="3.1" height="9.0" fill="#ee3e22"/>
<line x1="681.39" y1="338.4" x2="681.39" y2="354.9" stroke="#3a3a3a" stroke-width="1.3"/>
<rect x="679.84" y="346.1" width="3.1" height="8.3" fill="#ee3e22"/>
<line x1="686.51" y1="346.6" x2="686.51" y2="355.3" stroke="#3a3a3a" stroke-width="1.3"/>
<rect x="684.96" y="349.5" width="3.1" height="5.2" fill="#00b050"/>
<line x1="691.64" y1="344.0" x2="691.64" y2="352.6" stroke="#3a3a3a" stroke-width="1.3"/>
<rect x="690.09" y="347.1" width="3.1" height="2.4" fill="#00b050"/>
<line x1="696.77" y1="333.6" x2="696.77" y2="350.0" stroke="#3a3a3a" stroke-width="1.3"/>
<rect x="695.22" y="335.3" width="3.1" height="11.6" fill="#00b050"/>
<line x1="701.89" y1="334.4" x2="701.89" y2="347.1" stroke="#3a3a3a" stroke-width="1.3"/>
<rect x="700.35" y="335.3" width="3.1" height="11.3" fill="#ee3e22"/>
<line x1="707.02" y1="341.4" x2="707.02" y2="350.9" stroke="#3a3a3a" stroke-width="1.3"/>
<rect x="705.47" y="345.4" width="3.1" height="0.9" fill="#00b050"/>
<line x1="712.15" y1="342.2" x2="712.15" y2="351.8" stroke="#3a3a3a" stroke-width="1.3"/>
<rect x="710.60" y="345.4" width="3.1" height="0.8" fill="#ee3e22"/>
<line x1="717.28" y1="336.2" x2="717.28" y2="347.4" stroke="#3a3a3a" stroke-width="1.3"/>
<rect x="715.73" y="344.0" width="3.1" height="2.1" fill="#00b050"/>
<line x1="722.40" y1="331.5" x2="722.40" y2="345.7" stroke="#3a3a3a" stroke-width="1.3"/>
<rect x="720.85" y="332.7" width="3.1" height="10.9" fill="#00b050"/>
<line x1="727.53" y1="331.8" x2="727.53" y2="344.3" stroke="#3a3a3a" stroke-width="1.3"/>
<rect x="725.98" y="332.7" width="3.1" height="10.9" fill="#ee3e22"/>
<line x1="732.66" y1="330.1" x2="732.66" y2="344.3" stroke="#3a3a3a" stroke-width="1.3"/>
<rect x="731.11" y="331.5" width="3.1" height="12.1" fill="#00b050"/>
<line x1="737.78" y1="324.0" x2="737.78" y2="338.8" stroke="#3a3a3a" stroke-width="1.3"/>
<rect x="736.23" y="328.4" width="3.1" height="3.1" fill="#00b050"/>
<line x1="742.91" y1="312.8" x2="742.91" y2="332.7" stroke="#3a3a3a" stroke-width="1.3"/>
<rect x="741.36" y="317.4" width="3.1" height="10.9" fill="#00b050"/>
<line x1="748.04" y1="309.3" x2="748.04" y2="321.4" stroke="#3a3a3a" stroke-width="1.3"/>
<rect x="746.49" y="316.7" width="3.1" height="0.8" fill="#00b050"/>
<line x1="753.16" y1="304.4" x2="753.16" y2="321.8" stroke="#3a3a3a" stroke-width="1.3"/>
<rect x="751.62" y="310.2" width="3.1" height="6.9" fill="#00b050"/>
<line x1="758.29" y1="302.3" x2="758.29" y2="329.2" stroke="#3a3a3a" stroke-width="1.3"/>
<rect x="756.74" y="310.2" width="3.1" height="6.1" fill="#ee3e22"/>
<line x1="763.42" y1="314.6" x2="763.42" y2="331.9" stroke="#3a3a3a" stroke-width="1.3"/>
<rect x="761.87" y="316.3" width="3.1" height="8.7" fill="#ee3e22"/>
<line x1="768.55" y1="322.9" x2="768.55" y2="335.4" stroke="#3a3a3a" stroke-width="1.3"/>
<rect x="767.00" y="325.0" width="3.1" height="3.5" fill="#ee3e22"/>
<line x1="773.67" y1="281.3" x2="773.67" y2="328.8" stroke="#3a3a3a" stroke-width="1.3"/>
<rect x="772.12" y="301.6" width="3.1" height="26.9" fill="#00b050"/>
<line x1="778.80" y1="262.2" x2="778.80" y2="310.3" stroke="#3a3a3a" stroke-width="1.3"/>
<rect x="777.25" y="292.6" width="3.1" height="8.1" fill="#00b050"/>
<line x1="783.93" y1="243.8" x2="783.93" y2="292.9" stroke="#3a3a3a" stroke-width="1.3"/>
<rect x="782.38" y="248.3" width="3.1" height="44.1" fill="#00b050"/>
<line x1="789.05" y1="222.6" x2="789.05" y2="266.0" stroke="#3a3a3a" stroke-width="1.3"/>
<rect x="787.50" y="240.5" width="3.1" height="7.8" fill="#00b050"/>
<line x1="794.18" y1="219.1" x2="794.18" y2="254.5" stroke="#3a3a3a" stroke-width="1.3"/>
<rect x="792.63" y="226.4" width="3.1" height="14.1" fill="#00b050"/>
<line x1="799.31" y1="196.6" x2="799.31" y2="235.6" stroke="#3a3a3a" stroke-width="1.3"/>
<rect x="797.76" y="213.6" width="3.1" height="12.5" fill="#00b050"/>
<line x1="804.43" y1="190.5" x2="804.43" y2="220.9" stroke="#3a3a3a" stroke-width="1.3"/>
<rect x="802.88" y="194.3" width="3.1" height="19.3" fill="#00b050"/>
<line x1="809.56" y1="176.1" x2="809.56" y2="238.7" stroke="#3a3a3a" stroke-width="1.3"/>
<rect x="808.01" y="194.3" width="3.1" height="43.9" fill="#ee3e22"/>
<line x1="814.69" y1="200.9" x2="814.69" y2="238.2" stroke="#3a3a3a" stroke-width="1.3"/>
<rect x="813.14" y="208.4" width="3.1" height="29.3" fill="#00b050"/>
<line x1="819.82" y1="183.6" x2="819.82" y2="211.3" stroke="#3a3a3a" stroke-width="1.3"/>
<rect x="818.27" y="196.6" width="3.1" height="11.3" fill="#00b050"/>
<line x1="824.94" y1="154.9" x2="824.94" y2="229.5" stroke="#3a3a3a" stroke-width="1.3"/>
<rect x="823.39" y="196.6" width="3.1" height="22.5" fill="#ee3e22"/>
<line x1="830.07" y1="184.4" x2="830.07" y2="220.0" stroke="#3a3a3a" stroke-width="1.3"/>
<rect x="828.52" y="203.0" width="3.1" height="16.5" fill="#00b050"/>
<line x1="835.20" y1="178.4" x2="835.20" y2="221.7" stroke="#3a3a3a" stroke-width="1.3"/>
<rect x="833.65" y="203.0" width="3.1" height="11.4" fill="#ee3e22"/>
<line x1="840.32" y1="161.4" x2="840.32" y2="218.3" stroke="#3a3a3a" stroke-width="1.3"/>
<rect x="838.77" y="170.6" width="3.1" height="43.8" fill="#00b050"/>
<line x1="845.45" y1="150.3" x2="845.45" y2="187.9" stroke="#3a3a3a" stroke-width="1.3"/>
<rect x="843.90" y="161.9" width="3.1" height="8.7" fill="#00b050"/>
<line x1="850.58" y1="114.1" x2="850.58" y2="188.4" stroke="#3a3a3a" stroke-width="1.3"/>
<rect x="849.03" y="137.8" width="3.1" height="23.6" fill="#00b050"/>
<line x1="855.70" y1="52.2" x2="855.70" y2="146.8" stroke="#3a3a3a" stroke-width="1.3"/>
<rect x="854.15" y="94.2" width="3.1" height="44.2" fill="#00b050"/>
<line x1="860.83" y1="69.9" x2="860.83" y2="131.5" stroke="#3a3a3a" stroke-width="1.3"/>
<rect x="859.28" y="94.2" width="3.1" height="25.1" fill="#ee3e22"/>
<line x1="865.96" y1="48.2" x2="865.96" y2="130.6" stroke="#2a2a2a" stroke-width="1.8"/>
<rect x="864.41" y="119.3" width="3.1" height="10.4" fill="#ee3e22"/>
<line x1="871.09" y1="89.8" x2="871.09" y2="181.5" stroke="#3a3a3a" stroke-width="1.3"/>
<rect x="869.54" y="129.2" width="3.1" height="51.8" fill="#ee3e22"/>
<line x1="876.21" y1="139.0" x2="876.21" y2="215.1" stroke="#3a3a3a" stroke-width="1.3"/>
<rect x="874.66" y="174.5" width="3.1" height="6.5" fill="#00b050"/>
<line x1="881.34" y1="114.1" x2="881.34" y2="172.3" stroke="#3a3a3a" stroke-width="1.3"/>
<rect x="879.79" y="147.1" width="3.1" height="24.7" fill="#00b050"/>
<line x1="886.47" y1="134.1" x2="886.47" y2="158.4" stroke="#3a3a3a" stroke-width="1.3"/>
<rect x="884.92" y="146.8" width="3.1" height="1.2" fill="#ee3e22"/>
<line x1="891.59" y1="69.0" x2="891.59" y2="149.0" stroke="#3a3a3a" stroke-width="1.3"/>
<rect x="890.04" y="90.2" width="3.1" height="58.3" fill="#00b050"/>
<line x1="896.72" y1="66.8" x2="896.72" y2="116.7" stroke="#3a3a3a" stroke-width="1.3"/>
<rect x="895.17" y="90.2" width="3.1" height="21.0" fill="#ee3e22"/>
<line x1="901.85" y1="69.0" x2="901.85" y2="123.7" stroke="#3a3a3a" stroke-width="1.3"/>
<rect x="900.30" y="98.2" width="3.1" height="13.0" fill="#00b050"/>
<line x1="906.97" y1="53.1" x2="906.97" y2="121.1" stroke="#3a3a3a" stroke-width="1.3"/>
<rect x="905.42" y="99.0" width="3.1" height="21.5" fill="#ee3e22"/>
<line x1="912.10" y1="98.0" x2="912.10" y2="149.7" stroke="#3a3a3a" stroke-width="1.3"/>
<rect x="910.55" y="120.5" width="3.1" height="17.9" fill="#ee3e22"/>
<line x1="917.23" y1="64.2" x2="917.23" y2="137.9" stroke="#3a3a3a" stroke-width="1.3"/>
<rect x="915.68" y="121.9" width="3.1" height="15.6" fill="#00b050"/>
<line x1="922.36" y1="78.9" x2="922.36" y2="125.4" stroke="#3a3a3a" stroke-width="1.3"/>
<rect x="920.81" y="121.9" width="3.1" height="1.8" fill="#ee3e22"/>
<line x1="927.48" y1="82.9" x2="927.48" y2="124.5" stroke="#3a3a3a" stroke-width="1.3"/>
<rect x="925.93" y="110.1" width="3.1" height="13.6" fill="#00b050"/>
<line x1="932.61" y1="96.8" x2="932.61" y2="115.0" stroke="#3a3a3a" stroke-width="1.3"/>
<rect x="931.06" y="107.5" width="3.1" height="2.3" fill="#00b050"/>
<line x1="937.74" y1="93.3" x2="937.74" y2="121.1" stroke="#3a3a3a" stroke-width="1.3"/>
<rect x="936.19" y="107.5" width="3.1" height="12.7" fill="#ee3e22"/>
<line x1="942.86" y1="85.2" x2="942.86" y2="123.7" stroke="#3a3a3a" stroke-width="1.3"/>
<rect x="941.31" y="94.5" width="3.1" height="25.7" fill="#00b050"/>
<line x1="947.99" y1="73.0" x2="947.99" y2="95.0" stroke="#3a3a3a" stroke-width="1.3"/>
<rect x="946.44" y="75.4" width="3.1" height="19.1" fill="#00b050"/>
<line x1="953.12" y1="59.5" x2="953.12" y2="104.6" stroke="#3a3a3a" stroke-width="1.3"/>
<rect x="951.57" y="75.4" width="3.1" height="17.0" fill="#ee3e22"/>
<line x1="958.25" y1="82.0" x2="958.25" y2="98.5" stroke="#3a3a3a" stroke-width="1.3"/>
<rect x="956.70" y="86.4" width="3.1" height="6.0" fill="#00b050"/>
<line x1="963.37" y1="49.4" x2="963.37" y2="90.2" stroke="#3a3a3a" stroke-width="1.3"/>
<rect x="961.82" y="72.0" width="3.1" height="14.2" fill="#00b050"/>
<line x1="968.50" y1="49.4" x2="968.50" y2="100.3" stroke="#3a3a3a" stroke-width="1.3"/>
<rect x="966.95" y="72.0" width="3.1" height="27.7" fill="#ee3e22"/>
<line x1="973.63" y1="86.9" x2="973.63" y2="128.6" stroke="#3a3a3a" stroke-width="1.3"/>
<rect x="972.08" y="99.6" width="3.1" height="16.8" fill="#ee3e22"/>
<line x1="978.75" y1="94.2" x2="978.75" y2="118.2" stroke="#3a3a3a" stroke-width="1.3"/>
<rect x="977.20" y="101.7" width="3.1" height="16.1" fill="#00b050"/>
<line x1="983.88" y1="100.0" x2="983.88" y2="122.5" stroke="#3a3a3a" stroke-width="1.3"/>
<rect x="982.33" y="102.2" width="3.1" height="7.3" fill="#ee3e22"/>
</g>
<path d="M8.4 465.2 Q9.9 467.6 11.6 465" fill="none" stroke="#00b050" stroke-width="0.9"/>
<g stroke="#1a1a1a" stroke-width="1" fill="none" stroke-dasharray="3 1">
<line x1="620" y1="44.85" x2="851" y2="44.85"/>
<line x1="620" y1="157.45" x2="1090" y2="157.45"/>
<line x1="620" y1="192.00" x2="1090" y2="192.00"/>
<line x1="620" y1="226.50" x2="1090" y2="226.50"/>
<line x1="620" y1="339.20" x2="1090" y2="339.20"/>
<line x1="1045" y1="45.0" x2="1090" y2="45.0" stroke="#555"/>
<line x1="620" y1="44.85" x2="620" y2="339.2" stroke="#333" stroke-width="1.4"/>
</g>
<text class="fib" x="623" y="42.9">0.0% 77.5146</text>
<text class="fib" x="623" y="155.4">38.2% 75.1855</text>
<text class="fib" x="623" y="190.0">50.0% 74.4660</text>
<text class="fib" x="623" y="224.5">61.8% 73.7465</text>
<text class="fib" x="623" y="337.2">100.0% 71.4174</text>
<ellipse cx="865.8" cy="43.7" rx="2.1" ry="1.1" fill="#f04020"/>
<line x1="851" y1="45.3" x2="1045" y2="45.3" stroke="#000" stroke-width="3"/>
<line x1="794.4" y1="254.5" x2="1065.5" y2="50.8" stroke="#000" stroke-width="3.2" stroke-linecap="round"/>
<text class="b" x="18.5" y="28.6">null</text>
<path d="M58.8 20.0L66.0 27.200000000000003M66.0 20.0L58.8 27.200000000000003" stroke="#666" stroke-width="1" fill="none"/>
<text class="b" x="75.2" y="28.6">MAEXP (50, Close)</text>
<path d="M197.8 20.0L205.0 27.200000000000003M205.0 20.0L197.8 27.200000000000003" stroke="#666" stroke-width="1" fill="none"/>
<text class="b" x="214.7" y="28.6">MAEXP (200, Close)</text>
<path d="M20.7 515.1999999999999L27.900000000000002 522.4M27.900000000000002 515.1999999999999L20.7 522.4" stroke="#666" stroke-width="1" fill="none"/>
<text class="b" x="37.3" y="523.7">VOL</text>
<path d="M1063.8 22.6L1067.8 26.6L1071.8 22.6" fill="none" stroke="#333" stroke-width="1.4"/>
<path d="M1063.8 522.4L1067.8 518.4L1071.8 522.4" fill="none" stroke="#333" stroke-width="1.4"/>
<text class="ax" x="1102" y="460.0">69.0000</text>
<text class="ax" x="1102" y="411.9">70.0000</text>
<text class="ax" x="1102" y="363.2">71.0000</text>
<text class="ax" x="1102" y="314.9">72.0000</text>
<text class="ax" x="1102" y="266.9">73.0000</text>
<text class="ax" x="1102" y="219.2">74.0000</text>
<text class="ax" x="1102" y="170.4">75.0000</text>
<text class="ax" x="1102" y="122.6">76.0000</text>
<text class="ax" x="1102" y="74.1">77.0000</text>
<text class="ax" x="1102" y="26.0">78.0000</text>
<text class="ax" x="1102" y="525.9">20000</text>
<text class="ax" x="1102" y="572.2">10000</text>
<text class="ax" x="1102" y="619.2">0</text>
<polygon points="1096.6,98.9 1147.8,98.9 1147.8,120.1 1096.6,120.1 1090,111.0 1090,108.0" fill="#ee3e22"/>
<text class="tag" x="1101.2" y="113.1">76.1752</text>
<polygon points="1096.6,159.3 1147.8,159.3 1147.8,180.5 1096.6,180.5 1090,171.4 1090,168.4" fill="#ab2a2c"/>
<text class="tag" x="1101.2" y="173.5">74.9214</text>
<polygon points="1096.6,278.8 1147.8,278.8 1147.8,300.0 1096.6,300.0 1090,290.9 1090,287.9" fill="#1133ff"/>
<text class="tag" x="1101.2" y="293.0">72.4449</text>
<polygon points="1096.6,578.8 1131,578.8 1131,600.0 1096.6,600.0 1090,590.9 1090,587.9" fill="#ee3e22"/>
<text class="tag" x="1101.2" y="593.0">5471</text>
<clipPath id="c"><rect x="8" y="626" width="1145" height="22"/></clipPath><g clip-path="url(#c)">
<text class="ax dx" x="20.0" y="643.8" text-anchor="middle">Aug 5</text>
<text class="ax dx" x="71.3" y="643.8" text-anchor="middle">Aug 19</text>
<text class="ax dx" x="122.5" y="643.8" text-anchor="middle">Sep 2</text>
<text class="ax dx" x="173.8" y="643.8" text-anchor="middle">Sep 16</text>
<text class="ax dx" x="225.1" y="643.8" text-anchor="middle">Sep 30</text>
<text class="ax dx" x="276.4" y="643.8" text-anchor="middle">Oct 14</text>
<text class="ax dx" x="327.6" y="643.8" text-anchor="middle">Oct 28</text>
<text class="ax dx" x="378.9" y="643.8" text-anchor="middle">Nov 11</text>
<text class="ax dx" x="430.2" y="643.8" text-anchor="middle">Nov 25</text>
<text class="ax dx" x="481.4" y="643.8" text-anchor="middle">Dec 9</text>
<text class="ax dx" x="532.7" y="643.8" text-anchor="middle">Dec 23</text>
<text class="ax dx" x="573.7" y="643.8" text-anchor="middle">Jan 6</text>
<text class="ax dx" x="625.0" y="643.8" text-anchor="middle">Jan 20</text>
<text class="ax dx" x="676.3" y="643.8" text-anchor="middle">Feb 3</text>
<text class="ax dx" x="727.5" y="643.8" text-anchor="middle">Feb 17</text>
<text class="ax dx" x="778.8" y="643.8" text-anchor="middle">Mar 2</text>
<text class="ax dx" x="830.1" y="643.8" text-anchor="middle">Mar 16</text>
<text class="ax dx" x="881.3" y="643.8" text-anchor="middle">Mar 30</text>
<text class="ax dx" x="932.6" y="643.8" text-anchor="middle">Apr 13</text>
<text class="ax dx" x="983.9" y="643.8" text-anchor="middle">Apr 27</text>
<text class="ax dx" x="1055.7" y="643.8" text-anchor="middle">May 11</text>
</g>
</svg></body></html>
